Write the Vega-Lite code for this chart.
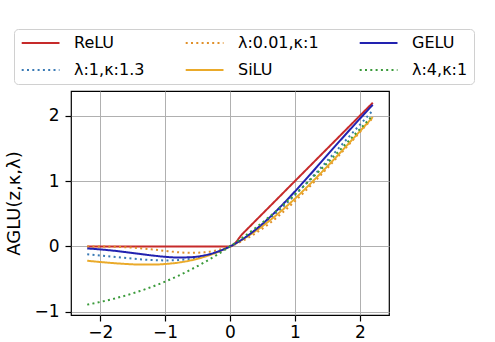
{
  "$schema": "https://vega.github.io/schema/vega-lite/v6.json",
  "width": 318,
  "height": 224,
  "padding": {"left": 5, "top": 28, "right": 5, "bottom": 0},
  "config": {
    "view": {"stroke": "black", "strokeWidth": 1.2},
    "font": "DejaVu Sans",
    "axis": {
      "domain": false,
      "grid": true,
      "gridColor": "#b0b0b0",
      "gridWidth": 1,
      "tickColor": "black",
      "tickSize": 6,
      "tickWidth": 1.2,
      "labelFont": "DejaVu Sans",
      "labelFontSize": 17,
      "labelColor": "black",
      "titleFont": "DejaVu Sans",
      "titleFontSize": 18,
      "titleFontWeight": "normal",
      "titleColor": "black"
    },
    "legend": {
      "labelFont": "DejaVu Sans",
      "labelFontSize": 16,
      "labelColor": "black",
      "symbolType": "M-0.9,0H4.5",
      "symbolSize": 196,
      "symbolStrokeWidth": 2,
      "labelOffset": 38,
      "columnPadding": 36,
      "rowPadding": 11,
      "padding": 6,
      "strokeColor": "#d0d0d0",
      "cornerRadius": 4,
      "fillColor": "white"
    }
  },
  "data": {
    "values": [
      {"f":"ReLU","x":-2.2,"y":0},{"f":"ReLU","x":-2,"y":0},{"f":"ReLU","x":-1.8,"y":0},{"f":"ReLU","x":-1.6,"y":0},{"f":"ReLU","x":-1.4,"y":0},{"f":"ReLU","x":-1.2,"y":0},{"f":"ReLU","x":-1,"y":0},{"f":"ReLU","x":-0.8,"y":0},{"f":"ReLU","x":-0.6,"y":0},{"f":"ReLU","x":-0.4,"y":0},{"f":"ReLU","x":-0.2,"y":0},{"f":"ReLU","x":0,"y":0},{"f":"ReLU","x":0.2,"y":0.2},{"f":"ReLU","x":0.4,"y":0.4},{"f":"ReLU","x":0.6,"y":0.6},{"f":"ReLU","x":0.8,"y":0.8},{"f":"ReLU","x":1,"y":1},{"f":"ReLU","x":1.2,"y":1.2},{"f":"ReLU","x":1.4,"y":1.4},{"f":"ReLU","x":1.6,"y":1.6},{"f":"ReLU","x":1.8,"y":1.8},{"f":"ReLU","x":2,"y":2},{"f":"ReLU","x":2.2,"y":2.2},
      {"f":"λ:1,κ:1.3","x":-2.2,"y":-0.1192},{"f":"λ:1,κ:1.3","x":-2,"y":-0.1382},{"f":"λ:1,κ:1.3","x":-1.8,"y":-0.158},{"f":"λ:1,κ:1.3","x":-1.6,"y":-0.1776},{"f":"λ:1,κ:1.3","x":-1.4,"y":-0.1952},{"f":"λ:1,κ:1.3","x":-1.2,"y":-0.2083},{"f":"λ:1,κ:1.3","x":-1,"y":-0.2142},{"f":"λ:1,κ:1.3","x":-0.8,"y":-0.2089},{"f":"λ:1,κ:1.3","x":-0.6,"y":-0.1886},{"f":"λ:1,κ:1.3","x":-0.4,"y":-0.1491},{"f":"λ:1,κ:1.3","x":-0.2,"y":-0.0871},{"f":"λ:1,κ:1.3","x":0,"y":0},{"f":"λ:1,κ:1.3","x":0.2,"y":0.1129},{"f":"λ:1,κ:1.3","x":0.4,"y":0.2509},{"f":"λ:1,κ:1.3","x":0.6,"y":0.4114},{"f":"λ:1,κ:1.3","x":0.8,"y":0.5911},{"f":"λ:1,κ:1.3","x":1,"y":0.7858},{"f":"λ:1,κ:1.3","x":1.2,"y":0.9917},{"f":"λ:1,κ:1.3","x":1.4,"y":1.2048},{"f":"λ:1,κ:1.3","x":1.6,"y":1.4224},{"f":"λ:1,κ:1.3","x":1.8,"y":1.642},{"f":"λ:1,κ:1.3","x":2,"y":1.8618},{"f":"λ:1,κ:1.3","x":2.2,"y":2.0808},
      {"f":"λ:0.01,κ:1","x":-2.2,"y":-0.0004},{"f":"λ:0.01,κ:1","x":-2,"y":-0.0016},{"f":"λ:0.01,κ:1","x":-1.8,"y":-0.0051},{"f":"λ:0.01,κ:1","x":-1.6,"y":-0.0127},{"f":"λ:0.01,κ:1","x":-1.4,"y":-0.0263},{"f":"λ:0.01,κ:1","x":-1.2,"y":-0.0458},{"f":"λ:0.01,κ:1","x":-1,"y":-0.0684},{"f":"λ:0.01,κ:1","x":-0.8,"y":-0.0886},{"f":"λ:0.01,κ:1","x":-0.6,"y":-0.0986},{"f":"λ:0.01,κ:1","x":-0.4,"y":-0.091},{"f":"λ:0.01,κ:1","x":-0.2,"y":-0.0594},{"f":"λ:0.01,κ:1","x":0,"y":0},{"f":"λ:0.01,κ:1","x":0.2,"y":0.0885},{"f":"λ:0.01,κ:1","x":0.4,"y":0.2051},{"f":"λ:0.01,κ:1","x":0.6,"y":0.3471},{"f":"λ:0.01,κ:1","x":0.8,"y":0.511},{"f":"λ:0.01,κ:1","x":1,"y":0.6927},{"f":"λ:0.01,κ:1","x":1.2,"y":0.8884},{"f":"λ:0.01,κ:1","x":1.4,"y":1.0944},{"f":"λ:0.01,κ:1","x":1.6,"y":1.3077},{"f":"λ:0.01,κ:1","x":1.8,"y":1.5259},{"f":"λ:0.01,κ:1","x":2,"y":1.747},{"f":"λ:0.01,κ:1","x":2.2,"y":1.9694},
      {"f":"SiLU","x":-2.2,"y":-0.2196},{"f":"SiLU","x":-2,"y":-0.2384},{"f":"SiLU","x":-1.8,"y":-0.2554},{"f":"SiLU","x":-1.6,"y":-0.2688},{"f":"SiLU","x":-1.4,"y":-0.2769},{"f":"SiLU","x":-1.2,"y":-0.2778},{"f":"SiLU","x":-1,"y":-0.2689},{"f":"SiLU","x":-0.8,"y":-0.248},{"f":"SiLU","x":-0.6,"y":-0.2126},{"f":"SiLU","x":-0.4,"y":-0.1605},{"f":"SiLU","x":-0.2,"y":-0.09},{"f":"SiLU","x":0,"y":0},{"f":"SiLU","x":0.2,"y":0.11},{"f":"SiLU","x":0.4,"y":0.2395},{"f":"SiLU","x":0.6,"y":0.3874},{"f":"SiLU","x":0.8,"y":0.552},{"f":"SiLU","x":1,"y":0.7311},{"f":"SiLU","x":1.2,"y":0.9222},{"f":"SiLU","x":1.4,"y":1.1231},{"f":"SiLU","x":1.6,"y":1.3312},{"f":"SiLU","x":1.8,"y":1.5446},{"f":"SiLU","x":2,"y":1.7616},{"f":"SiLU","x":2.2,"y":1.9804},
      {"f":"GELU","x":-2.2,"y":-0.0306},{"f":"GELU","x":-2,"y":-0.0455},{"f":"GELU","x":-1.8,"y":-0.0646},{"f":"GELU","x":-1.6,"y":-0.0877},{"f":"GELU","x":-1.4,"y":-0.1131},{"f":"GELU","x":-1.2,"y":-0.1381},{"f":"GELU","x":-1,"y":-0.1587},{"f":"GELU","x":-0.8,"y":-0.1695},{"f":"GELU","x":-0.6,"y":-0.1646},{"f":"GELU","x":-0.4,"y":-0.1378},{"f":"GELU","x":-0.2,"y":-0.0841},{"f":"GELU","x":0,"y":0},{"f":"GELU","x":0.2,"y":0.1159},{"f":"GELU","x":0.4,"y":0.2622},{"f":"GELU","x":0.6,"y":0.4354},{"f":"GELU","x":0.8,"y":0.6305},{"f":"GELU","x":1,"y":0.8413},{"f":"GELU","x":1.2,"y":1.0619},{"f":"GELU","x":1.4,"y":1.2869},{"f":"GELU","x":1.6,"y":1.5123},{"f":"GELU","x":1.8,"y":1.7354},{"f":"GELU","x":2,"y":1.9545},{"f":"GELU","x":2.2,"y":2.1694},
      {"f":"λ:4,κ:1","x":-2.2,"y":-0.8914},{"f":"λ:4,κ:1","x":-2,"y":-0.8506},{"f":"λ:4,κ:1","x":-1.8,"y":-0.8034},{"f":"λ:4,κ:1","x":-1.6,"y":-0.7491},{"f":"λ:4,κ:1","x":-1.4,"y":-0.6873},{"f":"λ:4,κ:1","x":-1.2,"y":-0.6173},{"f":"λ:4,κ:1","x":-1,"y":-0.5387},{"f":"λ:4,κ:1","x":-0.8,"y":-0.451},{"f":"λ:4,κ:1","x":-0.6,"y":-0.3536},{"f":"λ:4,κ:1","x":-0.4,"y":-0.2462},{"f":"λ:4,κ:1","x":-0.2,"y":-0.1284},{"f":"λ:4,κ:1","x":0,"y":0},{"f":"λ:4,κ:1","x":0.2,"y":0.1391},{"f":"λ:4,κ:1","x":0.4,"y":0.2888},{"f":"λ:4,κ:1","x":0.6,"y":0.4488},{"f":"λ:4,κ:1","x":0.8,"y":0.6186},{"f":"λ:4,κ:1","x":1,"y":0.7976},{"f":"λ:4,κ:1","x":1.2,"y":0.9847},{"f":"λ:4,κ:1","x":1.4,"y":1.1792},{"f":"λ:4,κ:1","x":1.6,"y":1.3799},{"f":"λ:4,κ:1","x":1.8,"y":1.5855},{"f":"λ:4,κ:1","x":2,"y":1.795},{"f":"λ:4,κ:1","x":2.2,"y":2.0072}
    ]
  },
  "mark": {"type": "line", "strokeWidth": 2, "interpolate": "monotone", "clip": true},
  "encoding": {
    "x": {
      "field": "x", "type": "quantitative",
      "scale": {"domain": [-2.45, 2.45], "nice": false, "zero": false},
      "axis": {"values": [-2, -1, 0, 1, 2], "title": null, "format": "d", "labelPadding": 3}
    },
    "y": {
      "field": "y", "type": "quantitative",
      "scale": {"domain": [-1.05, 2.38], "nice": false, "zero": false},
      "axis": {"values": [-1, 0, 1, 2], "title": "AGLU(z,κ,λ)", "format": "d", "labelPadding": 6, "titlePadding": 10}
    },
    "color": {
      "field": "f", "type": "nominal",
      "scale": {
        "domain": ["ReLU", "λ:1,κ:1.3", "λ:0.01,κ:1", "SiLU", "GELU", "λ:4,κ:1"],
        "range": ["#c62a2a", "#3a7ab5", "#e0902a", "#eaaa2a", "#2222b0", "#3a9a3a"]
      },
      "legend": {"title": null, "orient": "none", "columns": 3, "legendX": -57, "legendY": -62}
    },
    "strokeDash": {
      "field": "f", "type": "nominal",
      "scale": {
        "domain": ["ReLU", "λ:1,κ:1.3", "λ:0.01,κ:1", "SiLU", "GELU", "λ:4,κ:1"],
        "range": [[1, 0], [2, 3.3], [2, 3.3], [1, 0], [1, 0], [2, 3.3]]
      },
      "legend": {"title": null, "orient": "none", "columns": 3, "legendX": -57, "legendY": -62}
    }
  }
}
